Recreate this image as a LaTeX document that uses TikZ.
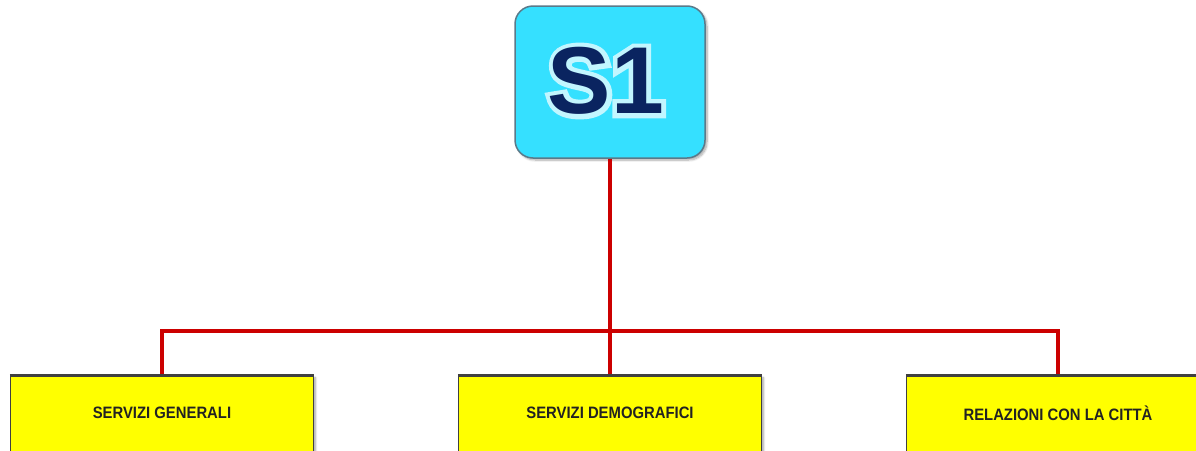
\documentclass[tikz,border=0pt]{standalone}
\usepackage{fontspec}
\setmainfont{Liberation Sans}
\newfontfamily\narrowfont[FakeStretch=0.9]{Liberation Sans}
\newfontfamily\glowfont[FakeBold=10]{Liberation Sans}
\usetikzlibrary{shadows,shadows.blur}
\definecolor{cyanbox}{HTML}{35E0FF}
\definecolor{cyanedge}{HTML}{5A7A8A}
\definecolor{navy}{HTML}{0A2460}
\definecolor{redline}{HTML}{CC0000}
\definecolor{yellowbox}{HTML}{FFFF00}
\definecolor{boxedge}{HTML}{404040}
\definecolor{txtdark}{HTML}{222222}
\tikzset{
  headbox/.style={draw=cyanedge, line width=1.5pt, fill=cyanbox, rounded corners=18pt,
    minimum width=190pt, minimum height=152pt, inner sep=0pt,
    blur shadow={shadow blur steps=8, shadow xshift=2pt, shadow yshift=-2pt, shadow opacity=35}},
  unitbox/.style={draw=boxedge, line width=1.5pt, fill=yellowbox,
    minimum width=303pt, minimum height=90pt, inner sep=0pt,
    blur shadow={shadow blur steps=6, shadow xshift=2pt, shadow yshift=-2pt, shadow opacity=35}},
  unitlabel/.style={font=\narrowfont\bfseries\fontsize{16.5}{19}\selectfont, text=txtdark, inner sep=0pt},
  link/.style={draw=redline, line width=4pt},
}
\begin{document}
\begin{tikzpicture}[x=1pt,y=-1pt]
\useasboundingbox (0,0) rectangle (1196,450);
\clip (0,0) rectangle (1196,450);
\node[headbox] (s1) at (610,82) {};
\coordinate (bus) at (610,331);
\coordinate (busl) at (162,331);
\coordinate (busr) at (1058,331);
\node[unitbox, anchor=north] (u1) at (162,375) {};
\node[unitbox, anchor=north] (u2) at (610,375) {};
\node[unitbox, anchor=north] (u3) at (1058,375) {};
\draw[link] (s1.south) -- (bus);
\draw[link] (u1.north) -- (busl) -- (busr) -- (u3.north);
\draw[link] (bus) -- (u2.north);
\draw[boxedge, line width=1.5pt] (u1.north west) -- (u1.north east);
\draw[boxedge, line width=1.5pt] (u2.north west) -- (u2.north east);
\draw[boxedge, line width=1.5pt] (u3.north west) -- (u3.north east);
% S1 label with light glow behind
\node[font=\glowfont\bfseries\fontsize{95}{95}\selectfont, text=white!70!cyanbox, inner sep=0pt] (s1g) at (606,81) {S1};
\node[font=\bfseries\fontsize{95}{95}\selectfont, text=navy, inner sep=0pt] (s1t) at (606,81) {S1};
\node[unitlabel] (l1) at (162,413) {SERVIZI GENERALI};
\node[unitlabel] (l2) at (610,413) {SERVIZI DEMOGRAFICI};
\node[unitlabel] (l3) at (1058,413) {RELAZIONI CON LA CITTÀ};
\end{tikzpicture}
\end{document}
